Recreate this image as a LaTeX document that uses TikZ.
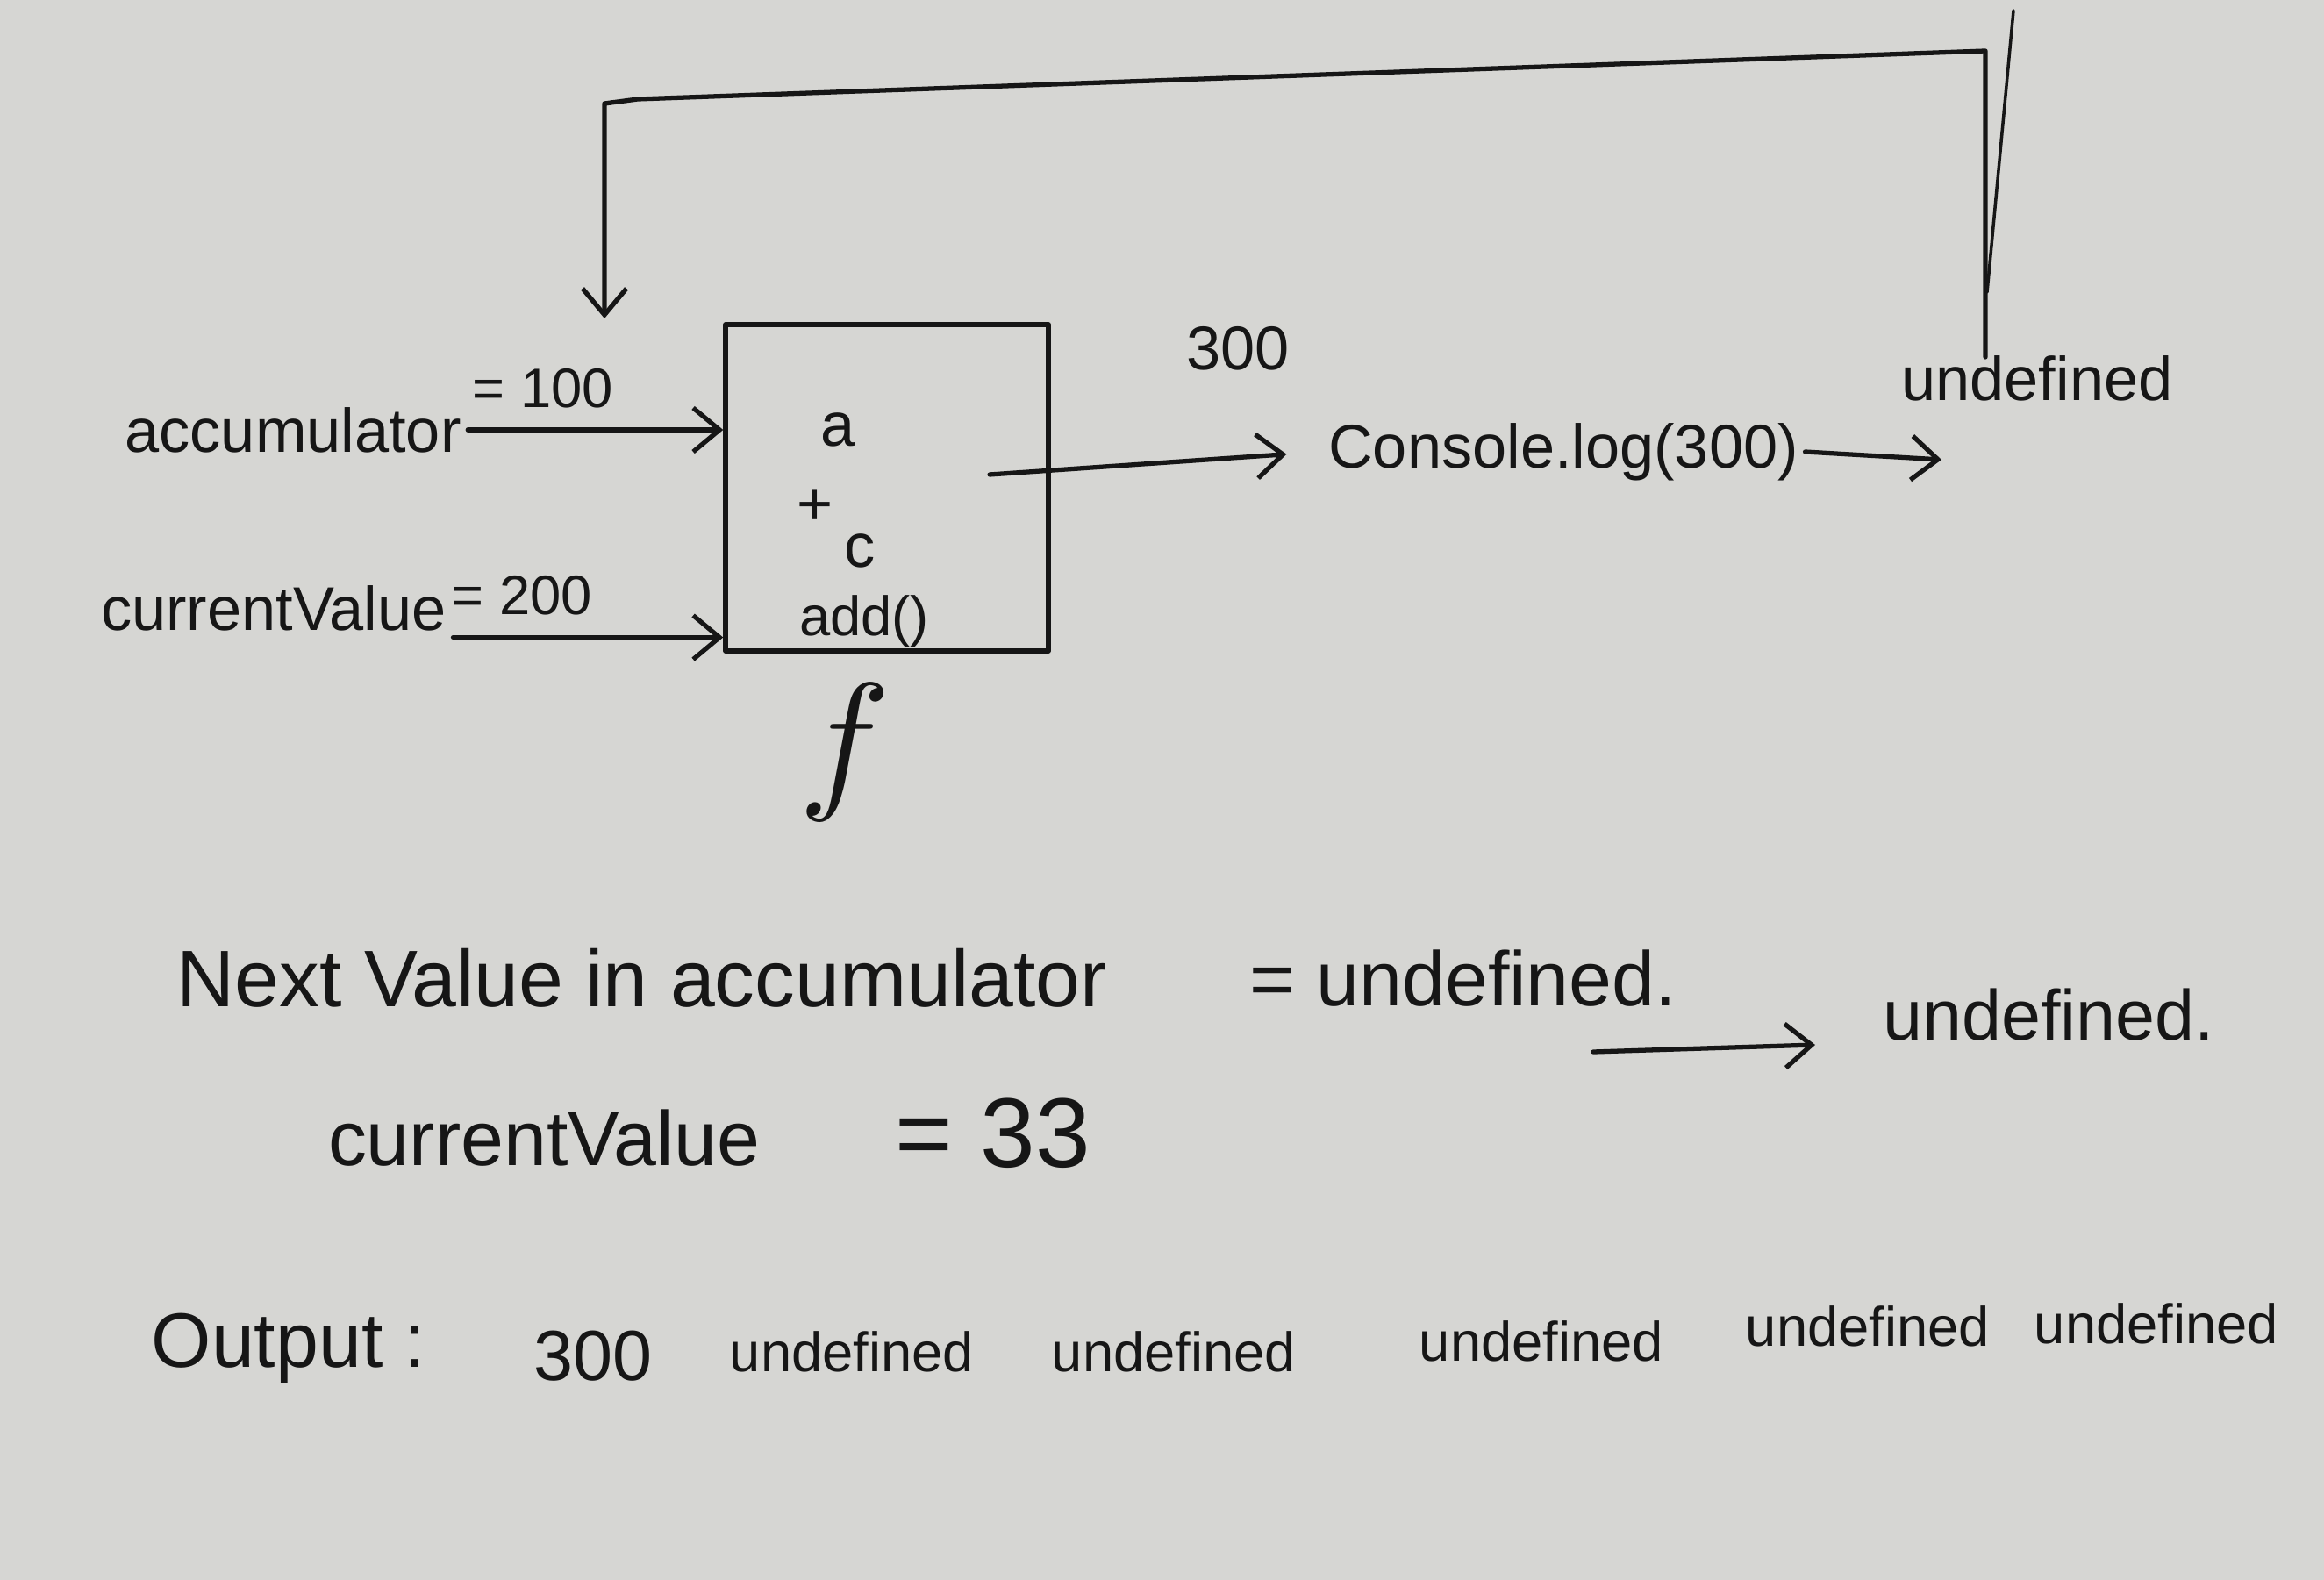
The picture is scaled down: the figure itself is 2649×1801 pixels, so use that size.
\documentclass[tikz,border=0pt]{standalone}
\usepackage{fontspec}
\setmainfont{Liberation Sans}
\usepackage{xcolor}
\definecolor{paper}{RGB}{214,214,211}
\definecolor{ink}{RGB}{22,22,22}
\usetikzlibrary{arrows.meta, positioning}
\tikzset{
  hand/.style={font=\fontsize{20}{24}\selectfont, text=ink, inner sep=2pt},
  bighand/.style={font=\fontsize{25}{30}\selectfont, text=ink, inner sep=2pt},
  outword/.style={hand, font=\fontsize{18}{22}\selectfont},
  pen/.style={draw=ink, line width=1.5pt, line cap=round, line join=round},
  flow/.style={pen, -{Straight Barb[length=3mm, width=5mm]}}
}

\begin{document}
\begin{tikzpicture}[x=0.01cm, y=-0.01cm]
      % paper
      \fill[paper] (0,0) rectangle (2649,1801);
      \useasboundingbox (0,0) rectangle (2649,1801);
      % function box
      \node[pen, minimum width=3.68cm, minimum height=3.72cm, inner sep=0pt]
            (fn) at (1011,556) {};
      \node[hand] (pa) at (955,490) {a};
      \node[hand] (pplus) at (929,578) {+};
      \node[hand] (pc) at (980,628) {c};
      \node[hand, font=\fontsize{18}{22}\selectfont] (padd) at (985,708) {add()};
      \node[text=ink, scale=5, transform shape] (fname) at (963,858) {$f$};
      % inputs on the left
      \node[hand] (acc) at (334,490) {accumulator};
      \node[hand, font=\fontsize{18}{22}\selectfont] (accval) at (619,443) {= 100};
      \node[hand] (cur) at (312,693) {currentValue};
      \node[hand, font=\fontsize{18}{22}\selectfont] (curval) at (595,679) {= 200};
      \draw[flow] (acc.east) -- (acc.east -| fn.west);
      \draw[flow] (cur.south east) -- (cur.south east -| fn.west);
      % result goes to the log call
      \coordinate (res) at (1128,541);
      \node[hand] (resval) at (1411,397) {300};
      \node[hand] (log) at (1782,515) {Console.log(300)};
      \draw[flow, shorten >=4mm] (res) -- (log.west);
      \node[hand] (undef) at (2322,431) {undefined};
      \coordinate (logend) at (2213,524);
      \draw[flow] (log.east) -- (logend);
      % loop back into accumulator
      \coordinate (lpa) at (2263,407);
      \coordinate (lpb) at (2263,58);
      \coordinate (lpc) at (727,113);
      \coordinate (lpd) at (689,118);
      \coordinate (lpe) at (689,363);
      \draw[flow] (lpa) -- (lpb) -- (lpc) -- (lpd) -- (lpe);
      \draw[pen, line width=1pt] (2295,12) -- (2265,333);
      % next call
      \node[bighand, font=\fontsize{26}{30}\selectfont] (next) at (732,1115) {Next Value in accumulator};
      \node[bighand] (nextval) at (1668,1115) {= undefined.};
      \coordinate (nxa) at (1816,1199);
      \coordinate (nxb) at (2069,1191);
      \draw[flow] (nxa) -- (nxb);
      \node[bighand, font=\fontsize{23}{28}\selectfont] (nextres) at (2335,1157) {undefined.};
      \node[bighand] (cur2) at (620,1297) {currentValue};
      \node[bighand, font=\fontsize{32}{36}\selectfont] (cur2val) at (1132,1292) {= 33};
      % output line
      \node[bighand] (outlbl) at (329,1537) {Output :};
      \node[hand, font=\fontsize{23}{28}\selectfont] (o1) at (676,1546) {300};
      \node[outword] (o2) at (971,1541) {undefined};
      \node[outword] (o3) at (1338,1541) {undefined};
      \node[outword] (o4) at (1757,1529) {undefined};
      \node[outword] (o5) at (2129,1512) {undefined};
      \node[outword] (o6) at (2458,1509) {undefined};
\end{tikzpicture}
\end{document}
